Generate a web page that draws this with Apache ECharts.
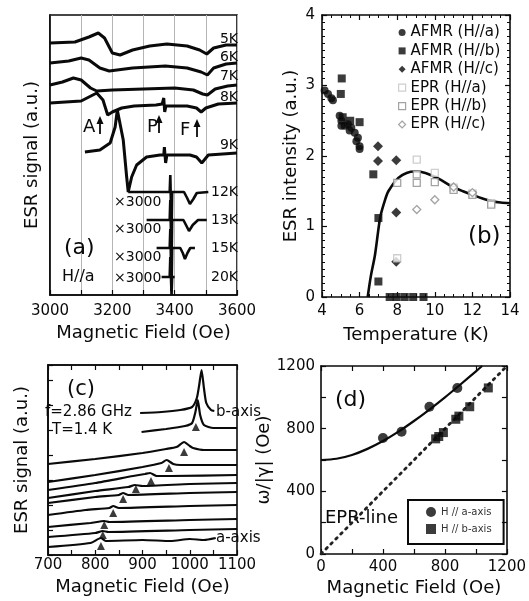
<!DOCTYPE html>
<html><head><meta charset="utf-8">
<script src="https://cdn.jsdelivr.net/npm/echarts@6/dist/echarts.min.js"></script>
<style>html,body{margin:0;padding:0;background:#fff}#c{width:529px;height:601px}</style>
</head><body><div id="c"></div>
<script>
// ---------- Panel (a): ESR traces, field (Oe) vs signal (a.u.) ----------
const a5K = [[3000,252],[3080,253],[3125,258],[3155,262],[3175,257],[3200,242],[3225,240],[3265,245],[3320,249],[3375,251],[3440,249],[3480,245],[3503,241],[3525,247],[3565,250],[3600,250]];
const a6K = [[3000,232],[3060,234],[3100,237],[3125,235],[3160,227],[3190,224],[3265,227],[3370,229],[3440,227],[3485,223],[3505,220],[3525,227],[3565,231],[3600,232]];
const a7K = [[3000,210],[3040,213],[3075,217],[3100,215],[3130,207],[3150,204],[3200,205],[3300,206],[3400,207],[3460,205],[3490,201],[3505,200],[3530,206],[3570,209],[3600,210]];
const a8K = [[3000,192],[3100,194],[3150,202],[3170,195],[3185,180],[3200,183],[3230,187],[3270,189],[3340,190],[3360,191],[3365,197],[3368,183],[3372,189],[3440,189],[3470,187],[3485,183],[3500,187],[3540,191],[3600,192]];
const a9K = [[3112,143],[3160,145],[3193,152],[3209,168],[3216,185],[3222,187],[3235,155],[3246,118],[3251,103],[3262,118],[3278,130],[3310,138],[3353,140],[3365,140],[3367,148],[3371,132],[3375,140],[3449,140],[3470,138],[3487,132],[3508,140],[3600,142]];
const a12K = [[3251,103],[3384,103],[3386,120],[3390,60],[3392,103],[3430,103],[3440,97],[3449,91],[3460,96],[3471,102],[3508,103]];
const a13K = [[3310,75],[3384,75],[3386,95],[3390,32],[3392,75],[3428,75],[3438,69],[3446,64],[3458,70],[3475,75],[3503,75]];
const a15K = [[3342,47],[3384,47],[3386,66],[3390,4],[3392,47],[3418,47],[3426,42],[3433,36],[3441,42],[3450,47],[3465,47]];
const a20K = [[3358,18],[3384,18],[3386,38],[3390,0],[3392,18],[3400,18]];
const aTraces = [a5K, a6K, a7K, a8K, a9K, a12K, a13K, a15K, a20K];
const aTempLabels = ['5K','6K','7K','8K','9K','12K','13K','15K','20K'];

// ---------- Panel (b): ESR intensity vs temperature ----------
const bAFMRa = [[4.14,2.93],[4.32,2.88],[4.5,2.82],[4.58,2.79],[4.94,2.57],[5.03,2.5],[5.03,2.43],[5.2,2.43],[5.38,2.45],[5.47,2.36],[5.56,2.4],[5.74,2.33],[5.83,2.21],[5.91,2.26],[6.0,2.14],[6.0,2.1]];
const bAFMRb = [[5.05,3.1],[5.0,2.88],[5.1,2.55],[5.5,2.5],[6.0,2.48],[6.73,1.74],[7.0,1.12],[7.0,0.22],[7.6,0],[7.97,0],[8.4,0],[8.85,0],[9.4,0]];
const bAFMRc = [[6.98,2.14],[6.98,1.93],[7.95,1.94],[7.95,1.2],[7.95,0.5]];
const bEPRa = [[8.0,0.55],[9.04,1.95],[10.0,1.76],[11.0,1.55],[12.0,1.47],[13.0,1.33]];
const bEPRb = [[8.0,1.62],[9.04,1.74],[9.04,1.62],[10.0,1.63],[11.0,1.52],[12.0,1.45],[13.0,1.31]];
const bEPRc = [[9.04,1.24],[10.0,1.38],[11.0,1.56],[12.0,1.48]];
const bFit = [[6.43,0],[6.6,0.3],[6.82,0.6],[7.09,1.12],[7.3,1.33],[7.53,1.5],[8.06,1.69],[8.5,1.76],[8.95,1.78],[9.5,1.76],[10.2,1.68],[10.9,1.57],[11.5,1.5],[12.0,1.45],[12.5,1.4],[13.0,1.36],[13.5,1.34],[14.0,1.33]];
const bNames = ['AFMR (H//a)','AFMR (H//b)','AFMR (H//c)','EPR (H//a)','EPR (H//b)','EPR (H//c)'];

// ---------- Panel (c): angle-dependent ESR at f=2.86 GHz ----------
const c01 = [[895,142],[940,143],[980,145],[1005,148],[1015,157],[1020,170],[1025,185],[1030,167],[1035,152],[1045,145],[1052,144]];
const c02 = [[898,123],[950,126],[990,129],[1005,132],[1012,143],[1017,155],[1022,140],[1030,130],[1050,127],[1100,127]];
const c03 = [[700,91],[800,96],[900,102],[950,106],[972,108],[988,113],[1000,109],[1007,107],[1030,105],[1100,105]];
const c04 = [[700,73],[800,80],[900,88],[940,92],[951,95],[965,91],[980,90],[1000,90],[1100,90]];
const c05 = [[700,65],[800,72],[880,79],[905,81],[916,82],[930,79],[960,79],[1100,80]];
const c06 = [[700,57],[800,64],[870,68],[884,70],[900,69],[1000,71],[1100,72]];
const c07 = [[700,52],[800,58],[850,60],[859,62],[870,60],[1000,62],[1100,63]];
const c08 = [[700,40],[780,45],[830,47],[838,49],[850,47],[1000,49],[1100,50]];
const c09 = [[700,28],[790,32],[819,34],[830,33],[1000,35],[1100,36]];
const c10 = [[700,18],[800,22],[816,24],[828,23],[1000,25],[1100,26]];
const c11 = [[700,8],[790,12],[812,17],[822,14],[900,15],[960,14],[1000,16],[1030,15],[1055,17]];
const cTraces = [c01,c02,c03,c04,c05,c06,c07,c08,c09,c10,c11];
const cMarks = [[1013,128],[988,103],[956,87],[918,74],[886,66],[859,56],[838,42],[819,30],[816,20],[812,9]];

// ---------- Panel (d): omega/|gamma| vs field ----------
const dAaxis = [[400,740],[520,780],[700,940],[880,1060]];
const dBaxis = [[740,735],[760,750],[790,775],[870,860],[890,880],[960,940],[1080,1060]];
const dFit = [[0,600],[100,608],[200,632],[300,671],[400,721],[500,781],[600,849],[700,922],[800,1000],[900,1082],[1000,1166],[1040,1200]];
const dEPRline = [[0,0],[1200,1200]];

const FONT = 'DejaVu Sans';
const INK = '#0a0a0a';

const chart = echarts.init(document.getElementById('c'), null, {renderer:'canvas'});

function tickAxis(base) {
  return Object.assign({
    axisLine:{show:true, onZero:false, lineStyle:{color:INK, width:1.6}},
    axisTick:{show:true, inside:true, length:5, lineStyle:{color:INK, width:1.2}},
    axisLabel:{show:false},
    splitLine:{show:false}
  }, base);
}
const lbl = (extra) => Object.assign({show:true, color:INK, fontSize:15, fontFamily:FONT}, extra);
const nameStyle = {color:INK, fontSize:18, fontFamily:FONT};

const grids = [
  {left:50, top:15, width:187, height:280, show:true, borderColor:INK, borderWidth:1.6},
  {left:322, top:15, width:188, height:282},
  {left:48, top:365, width:189, height:190, show:true, borderColor:INK, borderWidth:1.6},
  {left:321, top:366, width:187, height:188}
];

const xAxis = [
  tickAxis({gridIndex:0, type:'value', min:3000, max:3600, interval:100, position:'bottom',
    axisLabel:lbl({margin:9, formatter:v => (v%200===0 ? String(v) : '')}),
    splitLine:{show:true, lineStyle:{color:'#b5b5b5', width:1}},
    name:'Magnetic Field (Oe)', nameLocation:'middle', nameGap:29, nameTextStyle:nameStyle}),
  tickAxis({gridIndex:1, type:'value', min:4, max:14, interval:2, position:'bottom',
    minorTick:{show:true, splitNumber:4, length:3, lineStyle:{color:INK}},
    axisLabel:lbl({margin:7}),
    name:'Temperature (K)', nameLocation:'middle', nameGap:29, nameTextStyle:nameStyle}),
  tickAxis({gridIndex:1, type:'value', min:4, max:14, interval:2, position:'top',
    minorTick:{show:true, splitNumber:4, length:3, lineStyle:{color:INK}}}),
  tickAxis({gridIndex:2, type:'value', min:700, max:1100, interval:50, position:'bottom',
    axisLabel:lbl({margin:3, formatter:v => (v%100===0 ? String(v) : '')}),
    name:'Magnetic Field (Oe)', nameLocation:'middle', nameGap:23, nameTextStyle:nameStyle}),
  tickAxis({gridIndex:2, type:'value', min:700, max:1100, interval:50, position:'top'}),
  tickAxis({gridIndex:3, type:'value', min:0, max:1200, interval:200, position:'bottom',
    axisLabel:lbl({margin:6, formatter:v => (v%400===0 ? String(v) : '')}),
    name:'Magnetic Field (Oe)', nameLocation:'middle', nameGap:25, nameTextStyle:nameStyle}),
  tickAxis({gridIndex:3, type:'value', min:0, max:1200, interval:200, position:'top'})
];

const yAxis = [
  tickAxis({gridIndex:0, type:'value', min:0, max:280, position:'left', axisTick:{show:false},
    name:'ESR signal (a.u.)', nameLocation:'middle', nameGap:9, nameTextStyle:nameStyle}),
  tickAxis({gridIndex:1, type:'value', min:0, max:4, interval:1, position:'left',
    minorTick:{show:true, splitNumber:10, length:3, lineStyle:{color:INK}},
    axisLabel:lbl({margin:7}),
    name:'ESR intensity (a.u.)', nameLocation:'middle', nameGap:22, nameTextStyle:nameStyle}),
  tickAxis({gridIndex:1, type:'value', min:0, max:4, interval:1, position:'right',
    minorTick:{show:true, splitNumber:10, length:3, lineStyle:{color:INK}}}),
  tickAxis({gridIndex:2, type:'value', min:0, max:190, interval:25, position:'left',
    name:'ESR signal (a.u.)', nameLocation:'middle', nameGap:17, nameTextStyle:nameStyle}),
  tickAxis({gridIndex:3, type:'value', min:0, max:1200, interval:200, position:'left',
    axisLabel:lbl({margin:6, formatter:v => (v%400===0 ? String(v) : '')}),
    name:'ω/|γ| (Oe)', nameLocation:'middle', nameGap:37, nameTextStyle:nameStyle}),
  tickAxis({gridIndex:3, type:'value', min:0, max:1200, interval:200, position:'right'})
];

const series = [];
aTraces.forEach((d, i) => series.push({
  type:'line', name:'a'+aTempLabels[i], xAxisIndex:0, yAxisIndex:0, data:d,
  showSymbol:false, symbol:'none', lineStyle:{color:INK, width: i < 5 ? 3 : 2.6}, z:3
}));
const bSym = [
  {symbol:'circle', size:8, color:INK, border:INK},
  {symbol:'rect', size:8, color:INK, border:INK},
  {symbol:'diamond', size:10, color:INK, border:INK},
  {symbol:'rect', size:7, color:'#fff', border:'#c2c2c2'},
  {symbol:'rect', size:7, color:'#fff', border:'#8c8c8c'},
  {symbol:'diamond', size:8, color:'#fff', border:'#8c8c8c'}
];
[bAFMRa,bAFMRb,bAFMRc,bEPRa,bEPRb,bEPRc].forEach((d, i) => series.push({
  type:'scatter', name:bNames[i], xAxisIndex:1, yAxisIndex:1, data:d,
  symbol:bSym[i].symbol, symbolSize:bSym[i].size,
  itemStyle:{color:bSym[i].color, borderColor:bSym[i].border, borderWidth: i>=3 ? 1.3 : 0}, z:4
}));
series.push({type:'line', name:'fit', xAxisIndex:1, yAxisIndex:1, data:bFit, smooth:0.3,
  symbol:'none', lineStyle:{color:INK, width:2.6}, z:3});

cTraces.forEach((d, i) => series.push({
  type:'line', name:'c'+i, xAxisIndex:3, yAxisIndex:3, data:d, smooth:0.2,
  symbol:'none', lineStyle:{color:INK, width:2.2}, z:3
}));
series.push({type:'scatter', name:'resonance', xAxisIndex:3, yAxisIndex:3, data:cMarks,
  symbol:'triangle', symbolSize:8, itemStyle:{color:INK}, z:4});

series.push({type:'line', name:'EPR-line', xAxisIndex:5, yAxisIndex:4, data:dEPRline,
  symbol:'none', lineStyle:{color:'#222', width:2.8, type:[2,5], cap:'round'}, z:2});
series.push({type:'line', name:'fitd', xAxisIndex:5, yAxisIndex:4, data:dFit, smooth:0.3,
  symbol:'none', lineStyle:{color:INK, width:2.2}, z:3});
series.push({type:'scatter', name:'H // a-axis', xAxisIndex:5, yAxisIndex:4, data:dAaxis,
  symbol:'circle', symbolSize:10, itemStyle:{color:INK}, z:4});
series.push({type:'scatter', name:'H // b-axis', xAxisIndex:5, yAxisIndex:4, data:dBaxis,
  symbol:'rect', symbolSize:9, itemStyle:{color:INK}, z:4});

function txt(text, x, y, size, align) {
  return {type:'text', x:x, y:y, z:10,
    style:{text:text, fill:INK, fontSize:size, fontFamily:FONT, align:align||'left', verticalAlign:'middle'}};
}
function arrow(x, yTip, yEnd) {
  return [
    {type:'line', z:10, shape:{x1:x, y1:yTip+4, x2:x, y2:yEnd}, style:{stroke:INK, lineWidth:1.8}},
    {type:'polygon', z:10, shape:{points:[[x-3.5,yTip+8],[x+3.5,yTip+8],[x,yTip]]}, style:{fill:INK}}
  ];
}

const aLabY = [39,57,76,97,145,192,220,248,277];
const graphic = [];
aTempLabels.forEach((t, i) => graphic.push(txt(t, 238, aLabY[i], 14, 'right')));
[202,229,257,278].forEach(y => graphic.push(txt('×3000', 114, y, 14, 'left')));
graphic.push(txt('A', 83, 127, 18, 'left'));
graphic.push(...arrow(100, 116, 134));
graphic.push(txt('P', 147, 127, 18, 'left'));
graphic.push(...arrow(159, 115, 133));
graphic.push(txt('F', 180, 130, 18, 'left'));
graphic.push(...arrow(197, 119, 137));
graphic.push(txt('(a)', 64, 248, 22, 'left'));
graphic.push(txt('H//a', 62, 277, 16, 'left'));
graphic.push(txt('(b)', 468, 237, 23, 'left'));
graphic.push(txt('(c)', 67, 390, 21, 'left'));
graphic.push(txt('f=2.86 GHz', 45, 412, 15, 'left'));
graphic.push(txt('T=1.4 K', 52, 430, 15, 'left'));
graphic.push(txt('b-axis', 216, 412, 15, 'left'));
graphic.push(txt('a-axis', 216, 538, 15, 'left'));
graphic.push(txt('(d)', 335, 400, 22, 'left'));
graphic.push(txt('EPR-line', 325, 518, 18, 'left'));

const bLegendData = bNames.map((n, i) => ({
  name:n, icon:bSym[i].symbol,
  itemStyle:{color:bSym[i].color, borderColor:bSym[i].border, borderWidth: i>=3 ? 1.2 : 0}
}));

chart.setOption({
  animation:false,
  backgroundColor:'#fff',
  textStyle:{fontFamily:FONT, color:INK},
  grid:grids,
  xAxis:xAxis,
  yAxis:yAxis,
  legend:[
    {data:bLegendData, orient:'vertical', left:398, top:25, padding:0, itemGap:3.4, itemWidth:7, itemHeight:7,
     textStyle:{fontSize:15, fontFamily:FONT, color:INK, lineHeight:15}},
    {data:['H // a-axis','H // b-axis'], orient:'vertical', left:408, top:500,
     padding:[7,12,10,18], itemGap:7, itemWidth:10, itemHeight:10,
     borderColor:INK, borderWidth:2, borderRadius:0,
     textStyle:{fontSize:10, fontFamily:FONT, color:'#333'}}
  ],
  series:series,
  graphic:graphic
});
</script></body></html>
